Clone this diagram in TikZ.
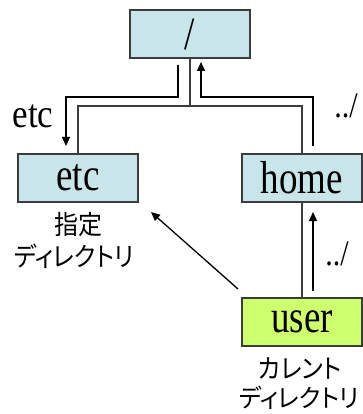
\documentclass[tikz,border=0pt]{standalone}
\usepackage{graphicx}
\usepackage{fontspec}
\setmainfont{Liberation Serif}
\newfontfamily\jp[RawFeature=+palt]{Noto Sans CJK JP}
\usetikzlibrary{arrows.meta}
\definecolor{boxblue}{RGB}{200,230,234}
\definecolor{boxgreen}{RGB}{206,255,110}
\definecolor{edgegray}{RGB}{60,60,60}
\newcommand\ystr[2]{\scalebox{1}[#1]{#2}}
\begin{document}
\begin{tikzpicture}[x=1pt,y=-1pt,
  dirbox/.style={draw=edgegray,line width=1.3pt,minimum width=120pt,minimum height=48pt,inner sep=0pt,font=\fontsize{37}{40}\selectfont},
  tree/.style={draw=edgegray,line width=1.4pt},
  mv/.style={draw=black,line width=1.3pt,-{Triangle[length=9pt,width=8pt]}},
  lbl/.style={inner sep=0pt},
  jlbl/.style={inner sep=0pt,font=\jp\fontsize{24}{26}\selectfont}]
\useasboundingbox (0,0) rectangle (363,414);
\node[dirbox,fill=boxblue] (root) at (190,34) {\ystr{1.25}{/}};
\node[dirbox,fill=boxblue] (etc) at (78,178) {\ystr{1.25}{etc}};
\node[dirbox,fill=boxblue] (home) at (302,178) {\ystr{1.25}{home}};
\node[dirbox,fill=boxgreen] (user) at (302,322) {\ystr{1.25}{user}};
\coordinate (j) at (190,106);
\draw[tree] (root.south) -- (j) -| (etc.north);
\draw[tree] (j) -| (home.north);
\draw[tree] (home.south) -- (user.north);
% cd etc
\coordinate (e1) at (178,65);
\coordinate (e2) at (66,146);
\draw[mv] (e1) |- (66,97) -- (e2);
% cd ../ from home
\coordinate (h1) at (313,146);
\coordinate (h2) at (201,62);
\draw[mv] (h1) |- (201,97) -- (h2);
% cd ../ from user
\coordinate (u1) at (313,291);
\coordinate (u2) at (313,212);
\draw[mv] (u1) -- (u2);
% direct
\coordinate (d1) at (238,289);
\coordinate (d2) at (151,212);
\draw[mv] (d1) -- (d2);
\node[lbl,font=\fontsize{35}{38}\selectfont] (letc) at (33,116) {\ystr{1.15}{etc}};
\node[lbl,font=\fontsize{30}{32}\selectfont] (lup1) at (346,106) {\ystr{1.2}{../}};
\node[lbl,font=\fontsize{30}{32}\selectfont] (lup2) at (337,254) {\ystr{1.2}{../}};
\node[jlbl] (s1) at (78,225) {\ystr{1.1}{指定}};
\node[jlbl] (s2) at (74,256) {\ystr{1.1}{ディレクトリ}};
\node[jlbl] (c1) at (300,369) {\ystr{1.1}{カレント}};
\node[jlbl] (c2) at (299,398) {\ystr{1.05}{ディレクトリ}};
\end{tikzpicture}
\end{document}
